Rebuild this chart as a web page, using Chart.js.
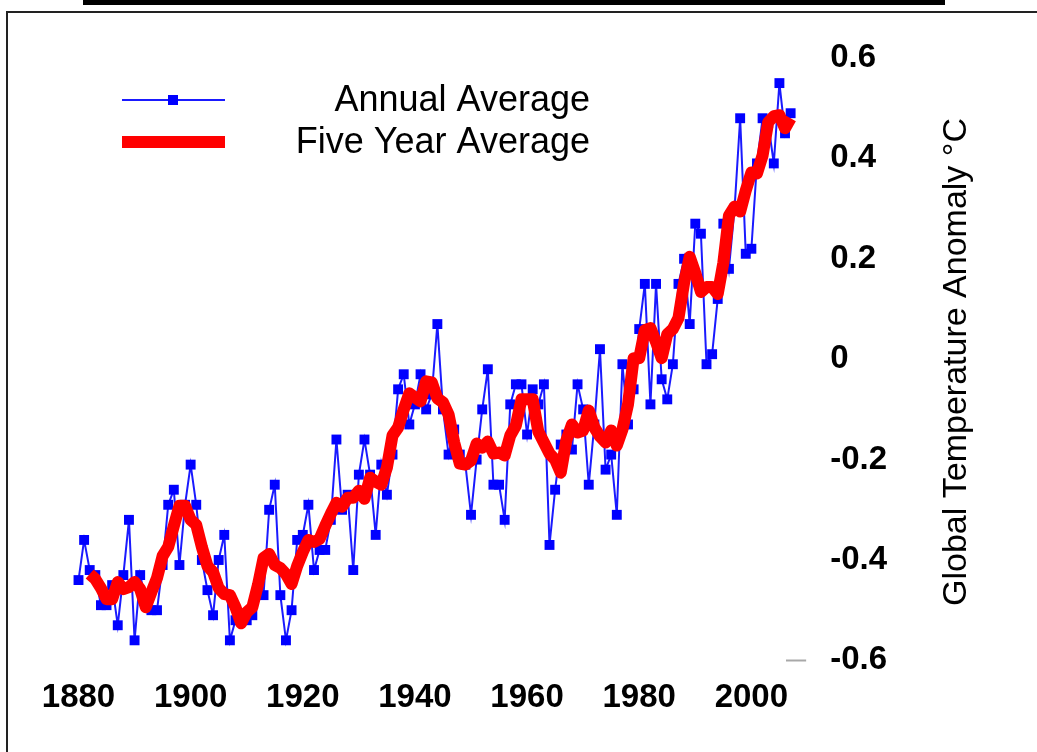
<!DOCTYPE html>
<html>
<head>
<meta charset="utf-8">
<title>Global Temperature Anomaly</title>
<script src="https://cdn.jsdelivr.net/npm/chart.js@4.4.1/dist/chart.umd.min.js"></script>
<style>
  html, body { margin: 0; padding: 0; background: #fff; }
  #wrap { position: relative; width: 1037px; height: 752px; }
</style>
</head>
<body>
<div id="wrap"><canvas id="canv"></canvas></div>
<script>
// years of the record
const years = [1880,1881,1882,1883,1884,1885,1886,1887,1888,1889,
  1890,1891,1892,1893,1894,1895,1896,1897,1898,1899,
  1900,1901,1902,1903,1904,1905,1906,1907,1908,1909,
  1910,1911,1912,1913,1914,1915,1916,1917,1918,1919,
  1920,1921,1922,1923,1924,1925,1926,1927,1928,1929,
  1930,1931,1932,1933,1934,1935,1936,1937,1938,1939,
  1940,1941,1942,1943,1944,1945,1946,1947,1948,1949,
  1950,1951,1952,1953,1954,1955,1956,1957,1958,1959,
  1960,1961,1962,1963,1964,1965,1966,1967,1968,1969,
  1970,1971,1972,1973,1974,1975,1976,1977,1978,1979,
  1980,1981,1982,1983,1984,1985,1986,1987,1988,1989,
  1990,1991,1992,1993,1994,1995,1996,1997,1998,1999,
  2000,2001,2002,2003,2004,2005,2006,2007,2008,2009];

// annual average anomaly (°C)
const annualAvg = [-0.44,-0.36,-0.42,-0.43,-0.49,-0.49,-0.45,-0.53,-0.43,-0.32,
  -0.56,-0.43,-0.48,-0.50,-0.50,-0.41,-0.29,-0.26,-0.41,-0.29,
  -0.21,-0.29,-0.40,-0.46,-0.51,-0.40,-0.35,-0.56,-0.52,-0.52,
  -0.52,-0.51,-0.45,-0.47,-0.30,-0.25,-0.47,-0.56,-0.50,-0.36,
  -0.35,-0.29,-0.42,-0.38,-0.38,-0.32,-0.16,-0.30,-0.27,-0.42,
  -0.23,-0.16,-0.23,-0.35,-0.21,-0.27,-0.19,-0.06,-0.03,-0.13,
  -0.09,-0.03,-0.10,-0.07,0.07,-0.10,-0.19,-0.14,-0.19,-0.21,
  -0.31,-0.20,-0.10,-0.02,-0.25,-0.25,-0.32,-0.09,-0.05,-0.05,
  -0.15,-0.06,-0.09,-0.05,-0.37,-0.26,-0.17,-0.15,-0.18,-0.05,
  -0.10,-0.25,-0.13,0.02,-0.22,-0.19,-0.31,-0.01,-0.13,-0.06,
  0.06,0.15,-0.09,0.15,-0.04,-0.08,-0.01,0.15,0.20,0.07,
  0.27,0.25,-0.01,0.01,0.12,0.27,0.18,0.30,0.48,0.21,
  0.22,0.39,0.48,0.47,0.39,0.55,0.45,0.49,0.34,0.49];

// five year average runs 1882 - 2007
const fiveYearYears = years.slice(2, 128);
const fiveYearAvg = [-0.428,-0.438,-0.456,-0.478,-0.478,-0.444,-0.458,-0.454,-0.444,-0.458,
  -0.494,-0.464,-0.436,-0.392,-0.374,-0.332,-0.292,-0.292,-0.320,-0.330,
  -0.374,-0.412,-0.424,-0.456,-0.468,-0.470,-0.494,-0.526,-0.504,-0.494,
  -0.450,-0.396,-0.388,-0.410,-0.416,-0.428,-0.448,-0.412,-0.384,-0.360,
  -0.364,-0.358,-0.332,-0.308,-0.286,-0.294,-0.276,-0.276,-0.262,-0.278,
  -0.236,-0.244,-0.250,-0.216,-0.152,-0.136,-0.100,-0.068,-0.076,-0.084,
  -0.044,-0.046,-0.078,-0.086,-0.110,-0.166,-0.208,-0.210,-0.202,-0.168,
  -0.176,-0.164,-0.188,-0.186,-0.192,-0.152,-0.132,-0.080,-0.080,-0.080,
  -0.144,-0.166,-0.188,-0.200,-0.226,-0.162,-0.130,-0.146,-0.142,-0.102,
  -0.136,-0.154,-0.166,-0.142,-0.172,-0.140,-0.090,0.002,0.002,0.058,
  0.062,0.034,0.002,0.050,0.060,0.082,0.152,0.204,0.172,0.134,
  0.144,0.144,0.130,0.192,0.286,0.304,0.294,0.336,0.372,0.370,
  0.406,0.472,0.484,0.486,0.460,0.480];

const xTicks = [1880, 1900, 1920, 1940, 1960, 1980, 2000];
const yTicks = [0.6, 0.4, 0.2, 0, -0.2, -0.4, -0.6];
const seriesNames = ['Annual Average', 'Five Year Average'];
const axisTitle = 'Global Temperature Anomaly °C';

const FONT = "'Liberation Sans', Arial, sans-serif";
Chart.defaults.font.family = FONT;
Chart.defaults.color = '#000';

function pairs(xs, ys){
  var out = [];
  for (var i = 0; i < ys.length; i++) out.push({x: xs[i], y: ys[i]});
  return out;
}

// white page, black strip on top and the thin frame
const framePlugin = {
  id: 'frame',
  beforeDraw(chart){
    const ctx = chart.ctx;
    ctx.save();
    ctx.fillStyle = '#fff';
    ctx.fillRect(0, 0, chart.width, chart.height);
    ctx.fillStyle = '#000';
    ctx.fillRect(83, 0, 862, 5);
    ctx.strokeStyle = '#222';
    ctx.lineWidth = 2;
    ctx.beginPath();
    ctx.moveTo(7, chart.height);
    ctx.lineTo(7, 12);
    ctx.lineTo(chart.width, 12);
    ctx.stroke();
    ctx.restore();
  }
};

// legend: sample line on the left, name right aligned
const legendPlugin = {
  id: 'sideLegend',
  afterDraw(chart){
    const ctx = chart.ctx;
    const rows = [chart.data.datasets[1], chart.data.datasets[0]];
    ctx.save();
    rows.forEach(function(ds, i){
      var y = 100 + i * 42;
      ctx.strokeStyle = ds.borderColor;
      ctx.lineWidth = ds.borderWidth;
      ctx.beginPath();
      ctx.moveTo(122, y);
      ctx.lineTo(225, y);
      ctx.stroke();
      if (ds.pointRadius > 0){
        ctx.fillStyle = ds.pointBackgroundColor;
        ctx.fillRect(168, y - 5, 10, 10);
      }
      ctx.fillStyle = '#000';
      ctx.font = '36px ' + FONT;
      ctx.textAlign = 'right';
      ctx.textBaseline = 'middle';
      ctx.fillText(ds.label, 590, y + 1);
    });
    ctx.restore();
  }
};

// axis title on the far right, reading bottom to top
const titlePlugin = {
  id: 'sideTitle',
  afterDraw(chart){
    const ctx = chart.ctx;
    ctx.save();
    ctx.translate(957, 362);
    ctx.rotate(-Math.PI / 2);
    ctx.font = '34px ' + FONT;
    ctx.fillStyle = '#000';
    ctx.textAlign = 'center';
    ctx.textBaseline = 'middle';
    ctx.fillText(axisTitle, 0, 0);
    ctx.restore();
  }
};

const data_chart = {
  datasets: [{
    label: seriesNames[1],
    data: pairs(fiveYearYears, fiveYearAvg),
    borderColor: '#ff0000',
    borderWidth: 12,
    borderJoinStyle: 'round',
    pointRadius: 0,
    tension: 0,
    clip: false,
    order: 0
  }, {
    label: seriesNames[0],
    data: pairs(years, annualAvg),
    borderColor: '#1a1aff',
    borderWidth: 2,
    pointStyle: 'rect',
    pointRadius: 7,
    pointBorderWidth: 0,
    pointBackgroundColor: '#0000ff',
    tension: 0,
    clip: false,
    order: 1
  }]
};

const config_chart = {
  type: 'line',
  data: data_chart,
  options: {
    responsive: true,
    maintainAspectRatio: false,
    animation: false,
    layout: { padding: { left: 78.5, top: 58, right: 126, bottom: 24 } },
    plugins: { legend: { display: false }, tooltip: { enabled: false } },
    scales: {
      x: {
        type: 'linear',
        min: 1880,
        max: 2006.2,
        afterBuildTicks: function(scale){ scale.ticks = xTicks.map(v => ({value: v})); },
        grid: { display: false },
        border: { display: false },
        ticks: {
          padding: 10,
          maxRotation: 0,
          font: { size: 33, weight: 'bold' },
          callback: v => String(v)
        }
      },
      y: {
        position: 'right',
        min: -0.6,
        max: 0.6,
        afterBuildTicks: function(scale){ scale.ticks = yTicks.map(v => ({value: v})); },
        grid: {
          drawOnChartArea: false,
          tickLength: 20,
          tickWidth: 2,
          tickColor: c => (c.tick && Math.abs(c.tick.value + 0.6) < 1e-9) ? '#a8a8a8' : 'rgba(0,0,0,0)'
        },
        border: { display: false },
        ticks: {
          padding: 24,
          font: { size: 33, weight: 'bold' },
          callback: v => v === 0 ? '0' : v.toFixed(1)
        }
      }
    }
  },
  plugins: [framePlugin, legendPlugin, titlePlugin]
};

var myChart = new Chart(document.getElementById('canv'), config_chart);
</script>
</body>
</html>
